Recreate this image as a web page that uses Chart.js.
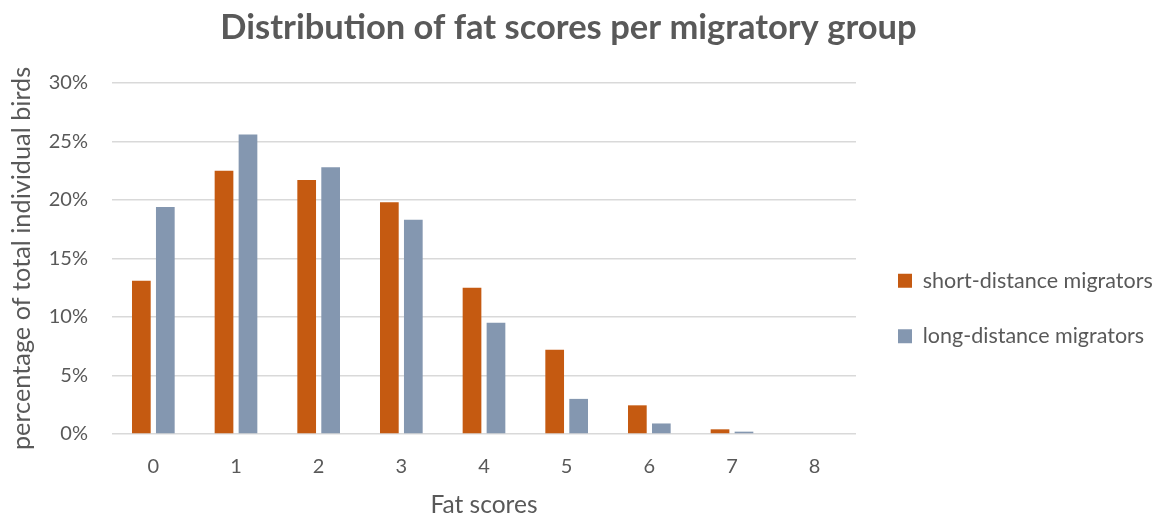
<!DOCTYPE html>
<html>
<head>
<meta charset="utf-8">
<title>Distribution of fat scores per migratory group</title>
<script src="https://cdn.jsdelivr.net/npm/chart.js@4.4.1/dist/chart.umd.min.js"></script>
<style>
  html, body { margin: 0; padding: 0; background: #fff; }
</style>
</head>
<body>
<canvas id="fatChart" width="1165" height="515"></canvas>
<script>
// fat score classes on the x axis
const fatScores = ["0", "1", "2", "3", "4", "5", "6", "7", "8"];
// share of birds (%) per fat score
const shortDistance = [13.1, 22.5, 21.7, 19.8, 12.5, 7.2, 2.45, 0.4, 0];
const longDistance = [19.4, 25.6, 22.8, 18.3, 9.5, 3.0, 0.9, 0.2, 0];
// y axis ticks (%)
const yTicks = [0, 5, 10, 15, 20, 25, 30];

const textColor = "#595959";
const fontFamily = "Lato, 'Open Sans', sans-serif";

// push the legend down next to the bars and let it run to the canvas edge
const legendPlacement = {
  id: "legendPlacement",
  afterLayout(chart) {
    const lg = chart.legend;
    const h = lg.bottom - lg.top;
    lg.top = 236;
    lg.bottom = 236 + h;
    lg.left = 864;
    lg.right = chart.width;
    lg.width = lg.right - lg.left;
  }
};

const ctx = document.getElementById("fatChart").getContext("2d");
new Chart(ctx, {
  type: "bar",
  data: {
    labels: fatScores,
    datasets: [
      {
        label: "short-distance migrators",
        data: shortDistance,
        backgroundColor: "#C55A11",
        categoryPercentage: 0.58,
        barPercentage: 0.78
      },
      {
        label: "long-distance migrators",
        data: longDistance,
        backgroundColor: "#8497B0",
        categoryPercentage: 0.58,
        barPercentage: 0.78
      }
    ]
  },
  options: {
    responsive: false,
    animation: false,
    layout: { padding: { right: 28 } },
    plugins: {
      title: {
        display: true,
        text: "Distribution of fat scores per migratory group",
        color: textColor,
        font: { family: fontFamily, size: 34.5, weight: "bold" },
        padding: { top: 7, bottom: 34.5 }
      },
      legend: {
        position: "right",
        align: "start",
        maxWidth: 281,
        labels: {
          color: textColor,
          font: { family: fontFamily, size: 21.5 },
          boxWidth: 14,
          boxHeight: 14,
          padding: 34
        }
      },
      tooltip: { enabled: false }
    },
    scales: {
      x: {
        grid: { display: false, drawTicks: false },
        border: { display: false },
        ticks: {
          color: textColor,
          font: { family: fontFamily, size: 20 },
          padding: 21
        },
        title: {
          display: true,
          text: "Fat scores",
          color: textColor,
          font: { family: fontFamily, size: 24.5, lineHeight: 0.8 },
          padding: { top: 10, bottom: 0 }
        },
        afterFit(scale) { scale.height = 81; }
      },
      y: {
        min: 0,
        max: 30,
        grid: { color: "#d9d9d9", lineWidth: 1.5, drawTicks: false },
        border: { display: false },
        afterBuildTicks(scale) {
          scale.ticks = yTicks.map(v => ({ value: v }));
        },
        ticks: {
          color: textColor,
          font: { family: fontFamily, size: 20 },
          padding: 24,
          callback: v => v + "%"
        },
        title: {
          display: true,
          text: "percentage of total individual birds",
          color: textColor,
          font: { family: fontFamily, size: 25.3, lineHeight: 1 },
          padding: { top: 9.5, bottom: 4 }
        },
        afterFit(scale) { scale.width = 112; }
      }
    }
  },
  plugins: [legendPlacement]
});
</script>
</body>
</html>
